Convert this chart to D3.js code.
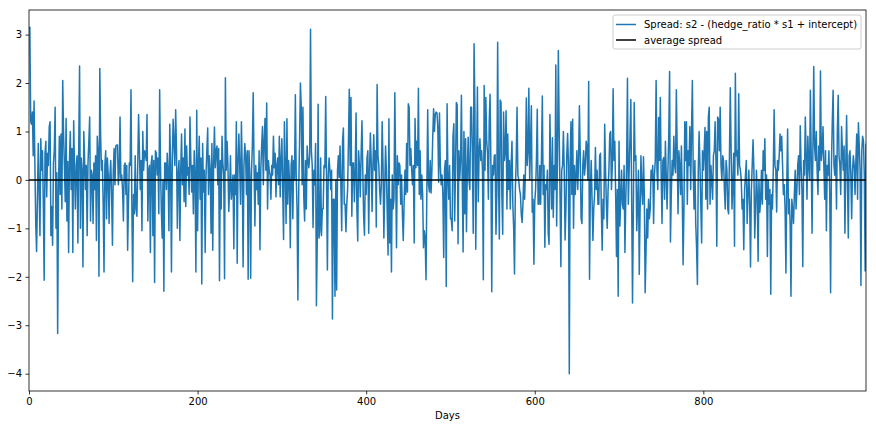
<!DOCTYPE html>
<html>
<head>
<meta charset="utf-8">
<script src="https://cdn.jsdelivr.net/npm/d3@7"></script>
<style>
  body { margin: 0; background: #fff; }
  svg { display: block; font-family: "DejaVu Sans", sans-serif; }
</style>
</head>
<body>
<div id="chart-area"></div>
<script>
// spread values, one per day (0..993)
var spread = [
  3.1, 3.15, 1.2, 1.15, 1.4, 0.5, 1.63, 0.3, -0.9, -1.48, -0.4, 0.75, -0.2, -1.15, 0.85, 0.2, 0.6, -0.5, -2.07, 0.55,
  0.8, -0.35, 0.55, 0.3, 1.1, 1.2, -1.15, -0.55, -1.35, 0.35, 0.6, 1.5, -1.0, 0.15, -3.17, -0.2, 0.9, -0.3, 0.95, -0.6,
  2.05, 0.95, 0.3, -0.45, 1.27, -0.85, 0.38, -1.5, 0.4, 1.0, -0.2, 0.65, -1.5, 1.22, 0.2, -0.6, 0.3, 0.5, -1.3, 0.65,
  2.35, -1.0, 0.45, 0.2, -1.8, 1.0, 0.4, -0.2, 0.3, -1.15, 0.35, 0.8, 1.3, -0.85, 0.2, 0.1, -0.9, 0.35, -0.2, 0.5,
  -1.25, 0.9, 0.6, -1.99, 2.3, 0.9, 0.2, 0.4, -0.5, -1.9, 0.3, 0.6, -0.8, 0.45, 0.1, -0.9, 0.1, 0.4, -0.3, -1.35,
  0.2, 0.65, -0.1, 0.7, 0.72, 0.72, -0.1, 0.15, 1.3, 0.0, 0.1, -0.2, -0.85, 0.3, 0.35, -0.3, 0.3, -1.45, -0.5, 0.35,
  0.3, 1.86, -0.5, -2.1, -0.3, -0.7, 0.5, -0.6, -0.75, 0.3, 1.35, 0.6, -0.2, 0.4, -1.05, 1.0, 0.2, 0.6, 0.55, 0.4,
  1.35, -0.85, 0.2, 0.3, -1.5, 0.35, 0.5, -1.15, 0.4, -2.12, 0.6, 0.55, 0.1, 0.45, -0.7, 1.86, 0.3, -0.6, -1.2, 0.0,
  -2.3, 0.35, 0.35, -0.2, 0.55, 0.2, -1.05, 1.15, 0.3, -1.9, 0.4, 1.25, 0.75, 0.3, 1.45, 0.6, -1.0, 0.15, 0.4, -1.25,
  0.2, 0.95, -0.1, 0.45, -0.45, 1.05, -0.55, 0.7, 0.1, 0.25, -0.3, 1.3, 0.4, -0.25, 0.3, -0.7, 0.6, 0.1, -1.9, 1.44,
  -1.05, 0.3, 0.9, -0.4, 0.45, -2.15, 0.75, -0.25, 0.2, -1.5, 0.1, 0.6, 1.07, -0.3, 0.5, 0.2, -1.1, 0.75, -1.45, 0.3,
  1.09, 0.25, 0.6, 0.7, -0.1, 0.65, -2.08, 0.4, -0.6, 0.9, 0.35, 0.1, -2.04, 2.11, 0.2, 0.8, 0.3, -0.65, -0.2, 0.5,
  -0.4, -0.2, 0.1, -1.42, 0.1, -0.3, 1.2, -1.72, 0.4, 0.95, 0.25, -0.5, 1.2, 0.2, -1.8, 0.3, 0.75, 0.5, -0.3, 0.6,
  -2.05, 0.6, 0.05, -2.03, 0.2, 0.7, 1.8, 0.3, -0.95, 0.3, -0.2, 0.15, -0.5, 0.6, -1.44, 0.2, 0.7, 1.1, -0.1, 0.8,
  1.27, 0.2, 1.59, -0.6, 0.4, 0.2, 0.1, -0.4, 0.3, 0.1, 0.9, 0.25, 0.55, -0.35, 0.3, 0.45, -0.1, 0.9, -0.35, 0.4,
  0.85, -0.2, -1.23, 1.2, 0.3, -0.9, 1.26, -0.5, 0.4, 0.0, -1.4, 0.3, 0.5, -0.8, 0.4, 0.0, 1.76, 0.1, -0.6, -2.48,
  -0.2, 0.8, 2.0, 1.5, -0.1, 1.5, -0.35, -0.85, 0.4, -0.6, 0.7, 0.4, 0.25, 0.5, 3.11, 0.6, 0.3, -0.98, 0.2, -0.1,
  0.75, -2.6, -1.2, 1.56, -1.2, -1.05, 0.45, -1.15, -0.6, -0.6, 0.3, 0.25, 1.72, 0.0, -1.86, 0.1, 0.45, 0.2, -0.2, 0.2,
  -2.87, -0.4, -0.4, -2.4, 0.0, -2.27, 0.2, 0.5, 0.05, 0.7, -0.1, -1.05, 0.8, 1.07, -0.5, -0.5, -1.07, -0.5, -0.2, 0.8,
  1.87, 0.3, 1.7, -0.75, 0.35, 0.35, -0.45, 0.15, 1.38, -0.6, -1.26, 0.6, 0.3, -0.35, 0.5, 1.22, 0.2, -0.75, -1.14, 0.1,
  -0.3, 0.45, 0.6, -1.1, 0.2, 0.97, 0.35, -0.65, 0.3, 0.93, 0.2, 0.6, -0.97, 1.97, 0.5, 0.3, -0.2, -0.5, -0.1, 1.2,
  0.3, -1.2, -0.2, 0.7, 0.2, -0.7, -1.55, 1.26, -1.3, -0.4, -1.9, 0.1, -0.6, -0.4, 1.8, 0.2, -1.4, 0.5, -0.1, 0.35,
  0.3, -0.5, 0.1, -0.7, -1.25, -0.5, 0.2, -0.3, 0.75, -0.25, 1.57, 1.5, 0.3, 0.65, 0.2, -0.1, 0.3, -1.3, 1.27, 0.25,
  0.8, 0.3, 1.89, -0.3, 0.6, -0.4, 0.1, -0.3, -1.4, -1.05, -1.2, -2.06, -0.2, 1.45, -0.1, -0.25, 0.4, -0.27, 0.2, 0.9,
  1.47, 1.0, 1.35, 1.4, 1.38, 1.1, -0.05, 1.38, 0.3, -0.1, 0.1, -0.3, -1.6, 0.2, 0.4, -2.2, 1.57, 0.1, -0.4, 0.3,
  -0.8, -0.8, -1.05, 0.9, 1.16, -0.85, 0.2, 1.6, 1.55, -1.32, 0.6, 0.0, 0.4, 1.75, 0.0, -1.49, 1.0, -0.7, 0.85, -1.07,
  0.2, 0.88, 0.0, -0.2, 1.5, 1.5, 0.5, -1.1, 2.81, 1.5, -1.43, 0.3, 1.92, -0.45, 0.6, 0.85, 0.4, 0.6, 0.2, -2.06,
  1.95, 0.2, 1.7, 0.8, 0.55, -0.4, 1.2, 1.77, 0.3, -2.31, 0.3, 0.1, 0.5, 0.52, -1.12, -0.3, 2.84, 0.1, -1.22, 1.65,
  1.6, -0.3, -1.12, 1.4, 0.4, 0.6, 1.43, -0.6, 0.95, -0.2, 0.4, -0.6, 0.3, 0.8, -0.5, -1.0, -1.94, -0.2, 0.4, 1.5,
  0.1, 0.0, -0.2, -0.3, -0.7, -0.88, -0.5, 0.1, -0.4, 0.2, 1.69, 0.3, 0.6, 1.89, 0.0, 0.7, 1.53, -0.67, -0.4, -1.74,
  -0.45, -0.2, 0.4, 1.46, -0.5, -0.5, 0.3, -0.5, 0.5, 1.73, -0.3, 0.3, -1.39, -0.1, -0.2, 0.2, -1.1, -1.33, 1.35, 0.2,
  -0.6, 0.87, -0.77, 0.3, -0.2, 2.37, -0.95, 0.5, 2.67, 1.0, -0.3, -1.79, 0.2, 0.3, 1.0, 0.2, -1.24, -0.6, 0.5, 0.96,
  0.3, -4.0, 0.4, 1.2, -0.3, 1.25, -1.0, 0.3, -0.3, 0.1, 0.6, -0.2, 0.4, 1.53, 0.5, -0.8, -0.9, 0.3, 0.6, 0.1,
  0.3, 0.8, 0.67, 0.0, 2.03, -2.05, -0.2, 0.4, -0.4, -1.25, -0.6, -0.3, 0.67, -0.2, 0.2, -0.5, -0.5, 0.5, 0.55, -0.6,
  -1.45, -0.4, -0.8, 1.15, 0.2, -0.5, -1.0, -0.2, 0.2, 0.95, 1.0, -0.2, 0.3, 1.88, 0.4, 0.8, -0.3, -1.58, -0.2, -2.4,
  0.8, -0.95, -0.4, 0.2, -0.5, -0.6, 0.3, -1.5, -0.4, 0.3, 2.1, -0.5, 0.2, 0.87, 1.66, -0.4, -2.54, -0.6, 1.6, 0.4,
  0.5, -1.05, -0.5, 0.2, -1.95, -0.6, 0.5, -0.2, -0.5, 0.48, -0.3, -2.33, -1.5, -0.6, -1.2, -0.4, -0.8, -0.6, 0.2, 0.0,
  0.3, -0.9, 0.1, 0.4, 2.05, 0.2, -0.2, 1.29, 0.4, 1.7, 0.1, -0.9, 0.4, 0.46, -0.4, 0.8, 0.1, -0.6, 0.2, 0.9,
  2.24, -1.28, -0.3, 0.4, 0.1, 0.9, 0.3, 0.15, 1.86, 0.6, -0.7, 0.6, 0.3, -0.3, 0.7, -0.3, -1.75, -0.6, 1.2, 0.4,
  1.2, -0.5, 0.6, 0.3, 1.1, -0.2, 1.0, 2.05, 0.2, -0.6, 0.4, -0.9, -1.4, -2.16, 0.2, 1.0, 0.3, -0.5, -1.3, 0.6,
  0.2, 0.6, 1.08, -0.4, 1.0, -0.6, 1.3, 1.5, -0.5, 0.3, 0.0, -0.4, 0.5, 0.6, 1.2, 0.4, -1.37, 1.3, 1.25, 0.6,
  1.5, 0.3, 0.0, 0.5, 0.4, -0.2, -0.6, 0.4, 0.2, -0.6, -0.7, 0.5, 1.9, 0.6, -0.6, -0.1, 0.55, -1.37, 2.2, 0.5,
  0.6, 0.1, 1.78, 0.3, 0.2, 0.0, -0.6, -0.4, -1.44, -0.2, 0.1, 0.4, -0.9, -0.3, 0.2, -0.5, -1.8, -0.2, 0.3, 0.83,
  0.2, -1.2, -0.6, 0.2, -0.3, -1.68, 0.0, -0.67, -0.4, 0.2, -0.5, 0.6, 0.2, 0.85, -0.4, 0.1, -1.58, 0.0, -0.5, -0.2,
  -2.36, -0.3, -0.6, 0.2, 1.45, 0.3, 0.2, -0.66, 0.4, 0.2, 0.5, 0.95, 0.6, 0.9, 0.3, -0.3, -0.1, -0.6, -1.92, -0.1,
  1.05, -0.7, -0.4, -0.9, -2.4, -0.4, -0.6, -0.9, -0.3, 0.2, -0.6, -0.2, 0.3, 0.5, -0.3, 1.12, 0.3, -0.2, -1.79, 0.4,
  0.1, 1.3, 0.5, -0.4, 0.9, 0.3, 0.0, 1.85, 0.5, -1.1, 0.6, 2.34, 0.7, 0.4, 1.0, 0.2, -0.3, 0.7, 0.2, 2.25,
  0.4, 0.6, 1.1, 0.3, -0.4, 0.6, -1.05, 0.3, 0.1, 0.6, -0.3, -2.33, 0.3, 1.2, 1.85, 0.3, 0.1, 0.5, -0.6, 1.0,
  1.75, 0.5, 0.3, -0.3, 1.1, 0.6, 0.2, 0.7, -1.1, 0.3, 1.33, 0.0, -1.2, 0.5, 0.6, 0.1, -0.8, 0.2, 0.5, 0.3,
  -0.3, 0.4, 0.95, -0.4, 1.18, 0.7, 0.2, -2.18, 0.6, 0.9, 0.8, 0.1, -1.88, 0.75
];
var averageSpread = 0.0;
var xTicks = [0, 200, 400, 600, 800];
var yTicks = [-4, -3, -2, -1, 0, 1, 2, 3];
var legendLabels = ["Spread: s2 - (hedge_ratio * s1 + intercept)", "average spread"];

var margin = { left: 29, right: 10, top: 10, bottom: 38 };
var width = 876 - margin.left - margin.right,
    height = 429 - margin.top - margin.bottom;

var svg = d3.select("#chart-area")
    .append("svg")
        .attr("width", 876)
        .attr("height", 429);

var g = svg.append("g")
    .attr("transform", "translate(" + margin.left + ", " + margin.top + ")");

var x = d3.scaleLinear()
    .domain([0, spread.length - 1])
    .range([0, width]);

// matplotlib style 5% margin on y
var ext = d3.extent(spread);
var pad = (ext[1] - ext[0]) * 0.05;
var y = d3.scaleLinear()
    .domain([ext[0] - pad, ext[1] + pad])
    .range([height, 0]);

g.append("clipPath")
    .attr("id", "clip")
  .append("rect")
    .attr("width", width)
    .attr("height", height);

var line = d3.line()
    .x(function(d, i){ return x(i); })
    .y(function(d){ return y(d); });

g.append("path")
    .datum(spread)
    .attr("clip-path", "url(#clip)")
    .attr("fill", "none")
    .attr("stroke", "#1f77b4")
    .attr("stroke-width", 1.5)
    .attr("stroke-linejoin", "round")
    .attr("d", line);

g.append("line")
    .attr("clip-path", "url(#clip)")
    .attr("x1", x(0))
    .attr("x2", x(spread.length - 1))
    .attr("y1", y(averageSpread))
    .attr("y2", y(averageSpread))
    .attr("stroke", "#000")
    .attr("stroke-width", 1.5);

// axes
var xAxis = g.append("g")
    .attr("transform", "translate(0, " + height + ")")
    .call(d3.axisBottom(x).tickValues(xTicks).tickSize(3.5).tickPadding(3.5).tickSizeOuter(0));

var yAxis = g.append("g")
    .call(d3.axisLeft(y).tickValues(yTicks).tickSize(3.5).tickPadding(3.5).tickSizeOuter(0));

[xAxis, yAxis].forEach(function(a){
    a.attr("font-family", "DejaVu Sans, sans-serif").attr("font-size", 10);
    a.select(".domain").remove();
    a.selectAll(".tick line").attr("stroke", "#000").attr("stroke-width", 0.8);
    a.selectAll(".tick text").attr("fill", "#000");
});

// frame
g.append("rect")
    .attr("width", width)
    .attr("height", height)
    .attr("fill", "none")
    .attr("stroke", "#000")
    .attr("stroke-width", 0.8);

g.append("text")
    .attr("x", width / 2)
    .attr("y", height + 28)
    .attr("font-size", "10px")
    .attr("text-anchor", "middle")
    .text("Days");

// legend
var legend = g.append("g")
    .attr("transform", "translate(" + (width - 5) + ", 5)");

var lw = 248, lh = 34;
legend.append("rect")
    .attr("x", -lw)
    .attr("width", lw)
    .attr("height", lh)
    .attr("rx", 2)
    .attr("fill", "#fff")
    .attr("fill-opacity", 0.8)
    .attr("stroke", "#ccc")
    .attr("stroke-width", 1);

var legendColors = ["#1f77b4", "#000"];
legendLabels.forEach(function(lab, i){
    var ly = 9.5 + i * 15.5;
    legend.append("line")
        .attr("x1", -lw + 3)
        .attr("x2", -lw + 23)
        .attr("y1", ly)
        .attr("y2", ly)
        .attr("stroke", legendColors[i])
        .attr("stroke-width", 1.5);
    legend.append("text")
        .attr("x", -lw + 31)
        .attr("y", ly + 3.6)
        .attr("font-size", "10px")
        .text(lab);
});
</script>
</body>
</html>
